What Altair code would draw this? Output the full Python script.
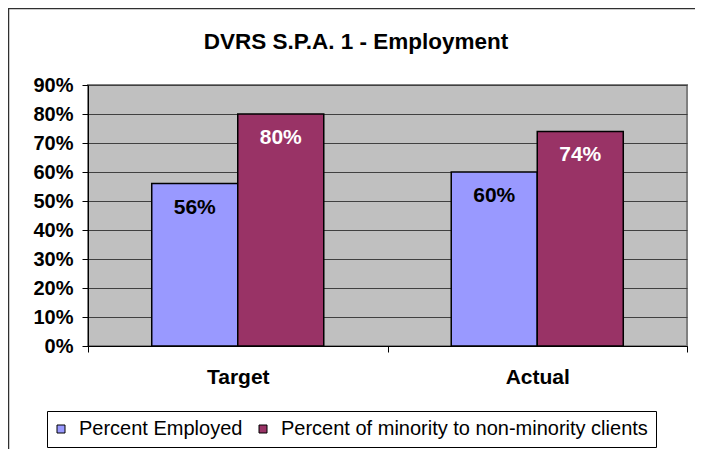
import altair as alt
import pandas as pd

title_text = "DVRS S.P.A. 1 - Employment"
categories = ["Target", "Actual"]
series_names = ["Percent Employed", "Percent of minority to non-minority clients"]
employed = [0.56, 0.60]
minority = [0.80, 0.74]
y_ticks = [0, 0.1, 0.2, 0.3, 0.4, 0.5, 0.6, 0.7, 0.8, 0.9]
colors = ["#9999FF", "#993366"]

rows = []
for i, c in enumerate(categories):
    rows.append({"category": c, "series": series_names[0], "value": employed[i]})
    rows.append({"category": c, "series": series_names[1], "value": minority[i]})
df = pd.DataFrame(rows)
title_df = pd.DataFrame({"t": [title_text]})

FONT = "Liberation Sans"

base = alt.Chart(df).encode(
    x=alt.X("category:N", sort=categories, title=None,
            scale=alt.Scale(paddingInner=0, paddingOuter=0),
            axis=alt.Axis(labelAngle=0, labelFont=FONT, labelFontSize=21,
                          labelFontWeight="bold", labelColor="black",
                          tickBand="extent", tickSize=6, tickColor="black",
                          domainColor="black", labelPadding=14, grid=False)),
    xOffset=alt.XOffset("series:N", sort=series_names,
                        scale=alt.Scale(paddingInner=0, paddingOuter=0.741)),
    y=alt.Y("value:Q", title=None,
            scale=alt.Scale(domain=[0, 0.9], nice=False),
            axis=alt.Axis(values=y_ticks, format=".0%", labelFont=FONT,
                          labelFontSize=20, labelFontWeight="bold",
                          labelColor="black", tickSize=6, tickColor="black",
                          domainColor="black", labelPadding=9,
                          labelOverlap=False,
                          gridColor="#404040", gridWidth=1)),
)

bars = base.mark_bar(stroke="black", strokeWidth=1.5).encode(
    color=alt.Color("series:N", sort=series_names,
                    scale=alt.Scale(domain=series_names, range=colors),
                    legend=alt.Legend(title=None, orient="none",
                                      direction="horizontal",
                                      legendX=-41, legendY=326,
                                      labelFont=FONT, labelFontSize=20,
                                      labelColor="black", labelLimit=0,
                                      symbolType="square", symbolSize=64,
                                      symbolStrokeColor="black",
                                      symbolStrokeWidth=1,
                                      symbolOffset=-4,
                                      labelOffset=8, columnPadding=14,
                                      padding=8, strokeColor="black",
                                      fillColor="white")),
)

labels = base.mark_text(font=FONT, fontSize=21, fontWeight="bold",
                        baseline="middle", dy=24).encode(
    text=alt.Text("value:Q", format=".0%"),
    color=alt.condition(alt.datum.series == series_names[0],
                        alt.value("black"), alt.value("white")),
)

title_mark = alt.Chart(title_df).mark_text(
    font=FONT, fontSize=22.5, fontWeight="bold", color="black",
    align="center", baseline="alphabetic").encode(
    text="t:N", x=alt.value(268), y=alt.value(-36))

frame_v = alt.Chart(title_df).mark_rule(color="#303030", strokeWidth=1.5).encode(
    x=alt.value(-79.5), y=alt.value(-77), y2=alt.value(364))
frame_h = alt.Chart(title_df).mark_rule(color="#303030", strokeWidth=1.5).encode(
    x=alt.value(-80), x2=alt.value(607), y=alt.value(-76.5))

chart = alt.layer(bars, labels, title_mark, frame_v, frame_h).properties(
    width=599, height=261,
    autosize=alt.AutoSizeParams(type="none"),
    padding={"left": 80, "top": 77, "right": 8, "bottom": 103},
).configure(
    background="white",
    view=alt.ViewConfig(fill="#C0C0C0", stroke="#808080", strokeWidth=2),
)

chart.save("out.html", embed_options={"renderer": "svg", "actions": False})
